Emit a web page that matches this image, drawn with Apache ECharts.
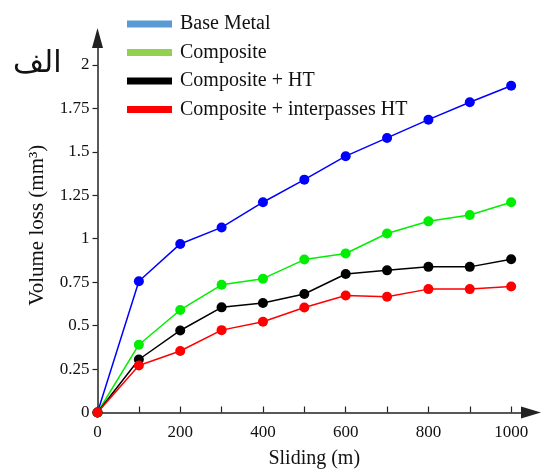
<!DOCTYPE html>
<html>
<head>
<meta charset="utf-8">
<script src="https://cdn.jsdelivr.net/npm/echarts@6/dist/echarts.min.js"></script>
<style>
  html, body { margin: 0; padding: 0; background: #fff; }
  #chart { width: 541px; height: 470px; }
</style>
</head>
<body>
<div id="chart"></div>
<script>
const sliding = [0, 100, 200, 300, 400, 500, 600, 700, 800, 900, 1000]
const baseMetal = [0, 0.755, 0.97, 1.065, 1.21, 1.34, 1.475, 1.58, 1.685, 1.785, 1.88]
const composite = [0, 0.39, 0.59, 0.735, 0.77, 0.88, 0.915, 1.03, 1.1, 1.136, 1.21]
const compositeHT = [0, 0.305, 0.472, 0.605, 0.63, 0.682, 0.797, 0.818, 0.838, 0.838, 0.882]
const compositeInterHT = [0, 0.27, 0.354, 0.474, 0.522, 0.604, 0.673, 0.666, 0.71, 0.71, 0.725]
const xLabels = [0, 200, 400, 600, 800, 1000]
const xTicks = [0, 100, 200, 300, 400, 500, 600, 700, 800, 900, 1000]
const yTicks = [0, 0.25, 0.5, 0.75, 1, 1.25, 1.5, 1.75, 2]

const seriesDefs = [
    { name: "Base Metal", values: baseMetal, color: "#0000ff", legendColor: "#5b9bd5" },
    { name: "Composite", values: composite, color: "#00ee00", legendColor: "#92d050" },
    { name: "Composite + HT", values: compositeHT, color: "#000000", legendColor: "#000000" },
    { name: "Composite + interpasses HT", values: compositeInterHT, color: "#ff0000", legendColor: "#ff0000" },
]

const font = "Liberation Serif"
const chart = echarts.init(document.getElementById("chart"))

chart.setOption({
    animation: false,
    title: {
        text: "الف",
        left: 8,
        top: 44,
        textStyle: { fontFamily: "DejaVu Sans", fontWeight: "normal", fontSize: 30, color: "#111" },
    },
    legend: {
        orient: "vertical",
        left: 122,
        top: 9,
        itemGap: 8.5,
        itemWidth: 45,
        itemHeight: 7,
        icon: "rect",
        textStyle: { fontFamily: font, fontSize: 20, color: "#111", padding: [0, 0, 0, 3] },
        data: seriesDefs.map((s) => ({ name: s.name, itemStyle: { color: s.legendColor } })),
    },
    grid: { left: 97.5, right: 10, top: 38, bottom: 57.5, outerBoundsMode: "none" },
    xAxis: {
        type: "value",
        min: 0,
        max: 1048,
        name: "Sliding (m)",
        nameLocation: "middle",
        nameGap: 36,
        nameTextStyle: { fontFamily: font, fontSize: 20, color: "#111" },
        axisLine: { lineStyle: { color: "#222", width: 1.5 }, symbol: ["none", "triangle"], symbolSize: [12, 20] },
        axisTick: { inside: true, length: 6, customValues: xTicks, lineStyle: { color: "#222", width: 1.2 } },
        axisLabel: { customValues: xLabels, formatter: (v) => String(v), margin: 12, fontFamily: font, fontSize: 17, color: "#111" },
        splitLine: { show: false },
    },
    yAxis: {
        type: "value",
        min: 0,
        max: 2.155,
        name: "Volume loss (mm³)",
        nameLocation: "middle",
        nameGap: 50,
        nameTextStyle: { fontFamily: font, fontSize: 21, color: "#111" },
        axisLine: { show: true, lineStyle: { color: "#222", width: 1.5 }, symbol: ["none", "triangle"], symbolSize: [11, 20] },
        axisTick: { show: true, length: 5, customValues: yTicks, lineStyle: { color: "#222", width: 1.2 } },
        axisLabel: { customValues: yTicks, formatter: (v) => String(v), margin: 8, fontFamily: font, fontSize: 17, color: "#111" },
        splitLine: { show: false },
    },
    series: seriesDefs.map((s) => ({
        name: s.name,
        type: "line",
        data: sliding.map((x, i) => [x, s.values[i]]),
        symbol: "circle",
        symbolSize: 10,
        showAllSymbol: true,
        itemStyle: { color: s.color },
        lineStyle: { color: s.color, width: 1.5 },
    })),
})
</script>
</body>
</html>
